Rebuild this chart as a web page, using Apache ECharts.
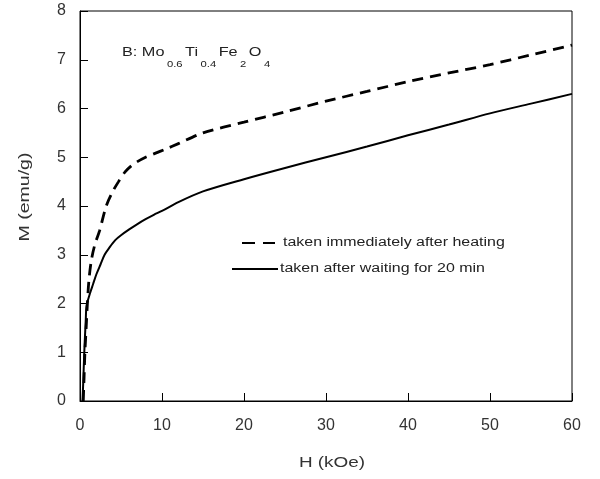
<!DOCTYPE html>
<html><head><meta charset="utf-8">
<script src="https://cdn.jsdelivr.net/npm/echarts@6/dist/echarts.min.js"></script>
<style>html,body{margin:0;padding:0;background:#fff}#c{width:600px;height:479px}</style>
</head><body><div id="c"></div>
<script>
var solidH = [0.3,0.4,0.5,0.6,0.7,0.8,1.2,1.6,2.0,2.5,3.0,3.6,4.3,5.0,6.0,7.0,8.0,9.0,10,12,15,20,25,30,35,40,45,50,55,60];
var solidM = [0,0.4,0.9,1.3,1.65,1.95,2.2,2.4,2.6,2.8,3.0,3.15,3.3,3.4,3.52,3.63,3.73,3.82,3.9,4.08,4.3,4.55,4.78,5.0,5.22,5.45,5.67,5.9,6.1,6.3];
var dashH = [0.4,0.5,0.6,0.75,0.9,1.1,1.4,1.8,2.4,3.2,4.0,4.7,5.5,6.3,7.0,8.0,9.0,10.5,12,15,20,25,30,35,40,45,50,55,60];
var dashM = [0,0.5,1.0,1.5,2.0,2.5,2.9,3.2,3.5,4.0,4.3,4.5,4.7,4.83,4.91,5.0,5.07,5.17,5.28,5.5,5.72,5.93,6.15,6.35,6.55,6.73,6.9,7.1,7.3];
var seriesNames = ['taken immediately after heating','taken after waiting for 20 min'];
var xTitle = 'H (kOe)', yTitle = 'M (emu/g)';

function pairs(a,b){return a.map(function(v,i){return [v,b[i]];});}
var font = 'Liberation Sans, Arial, sans-serif';
var txt = '#333';
var chart = echarts.init(document.getElementById('c'));
chart.setOption({
  animation:false,
  grid:{left:80,top:11,width:492,height:390,show:true,borderColor:'#000',borderWidth:1},
  xAxis:{type:'value',min:0,max:60,interval:10,
    axisLine:{lineStyle:{color:'#000',width:1}},
    axisTick:{inside:true,length:8,lineStyle:{color:'#000'}},
    axisLabel:{fontFamily:font,fontSize:16,color:txt,margin:17},
    splitLine:{show:false}},
  yAxis:{type:'value',min:0,max:8,interval:1,
    axisLine:{lineStyle:{color:'#000',width:1}},
    axisTick:{inside:true,length:8,lineStyle:{color:'#000'}},
    axisLabel:{fontFamily:font,fontSize:16,color:txt,margin:14},
    splitLine:{show:false}},
  series:[
    {name:seriesNames[0],type:'line',smooth:0.3,showSymbol:false,data:pairs(dashH,dashM),
     lineStyle:{color:'#000',width:2.8,type:[11,7]}},
    {name:seriesNames[1],type:'line',smooth:0.3,showSymbol:false,data:pairs(solidH,solidM),
     lineStyle:{color:'#000',width:2}}
  ],
  graphic:[
    {type:'text',x:332,y:463,style:{text:xTitle,font:'15px '+font,fill:txt,align:'center',verticalAlign:'middle'},scaleX:1.26},
    {type:'text',x:25,y:197,rotation:Math.PI/2,style:{text:yTitle,font:'15px '+font,fill:txt,align:'center',verticalAlign:'middle'},scaleX:1.3},
    {type:'text',x:122,y:35,scaleX:1.25,style:{
      text:'B: Mo{s|0.6}Ti{s|0.4}Fe{s|2}O{s|4}',
      font:'13px '+font,fill:'#222',
      rich:{s:{fontSize:9,fontFamily:font,padding:[25,2,0,2],fill:'#222'}}}},
    {type:'line',shape:{x1:242,y1:243,x2:255,y2:243},style:{stroke:'#000',lineWidth:2}},
    {type:'line',shape:{x1:263,y1:243,x2:275,y2:243},style:{stroke:'#000',lineWidth:2}},
    {type:'text',x:283,y:243,scaleX:1.33,style:{text:seriesNames[0],font:'12px '+font,fill:'#222',align:'left',verticalAlign:'middle'}},
    {type:'line',shape:{x1:232,y1:269,x2:278,y2:269},style:{stroke:'#000',lineWidth:2}},
    {type:'text',x:280,y:269,scaleX:1.33,style:{text:seriesNames[1],font:'12px '+font,fill:'#222',align:'left',verticalAlign:'middle'}}
  ]
});
</script></body></html>
